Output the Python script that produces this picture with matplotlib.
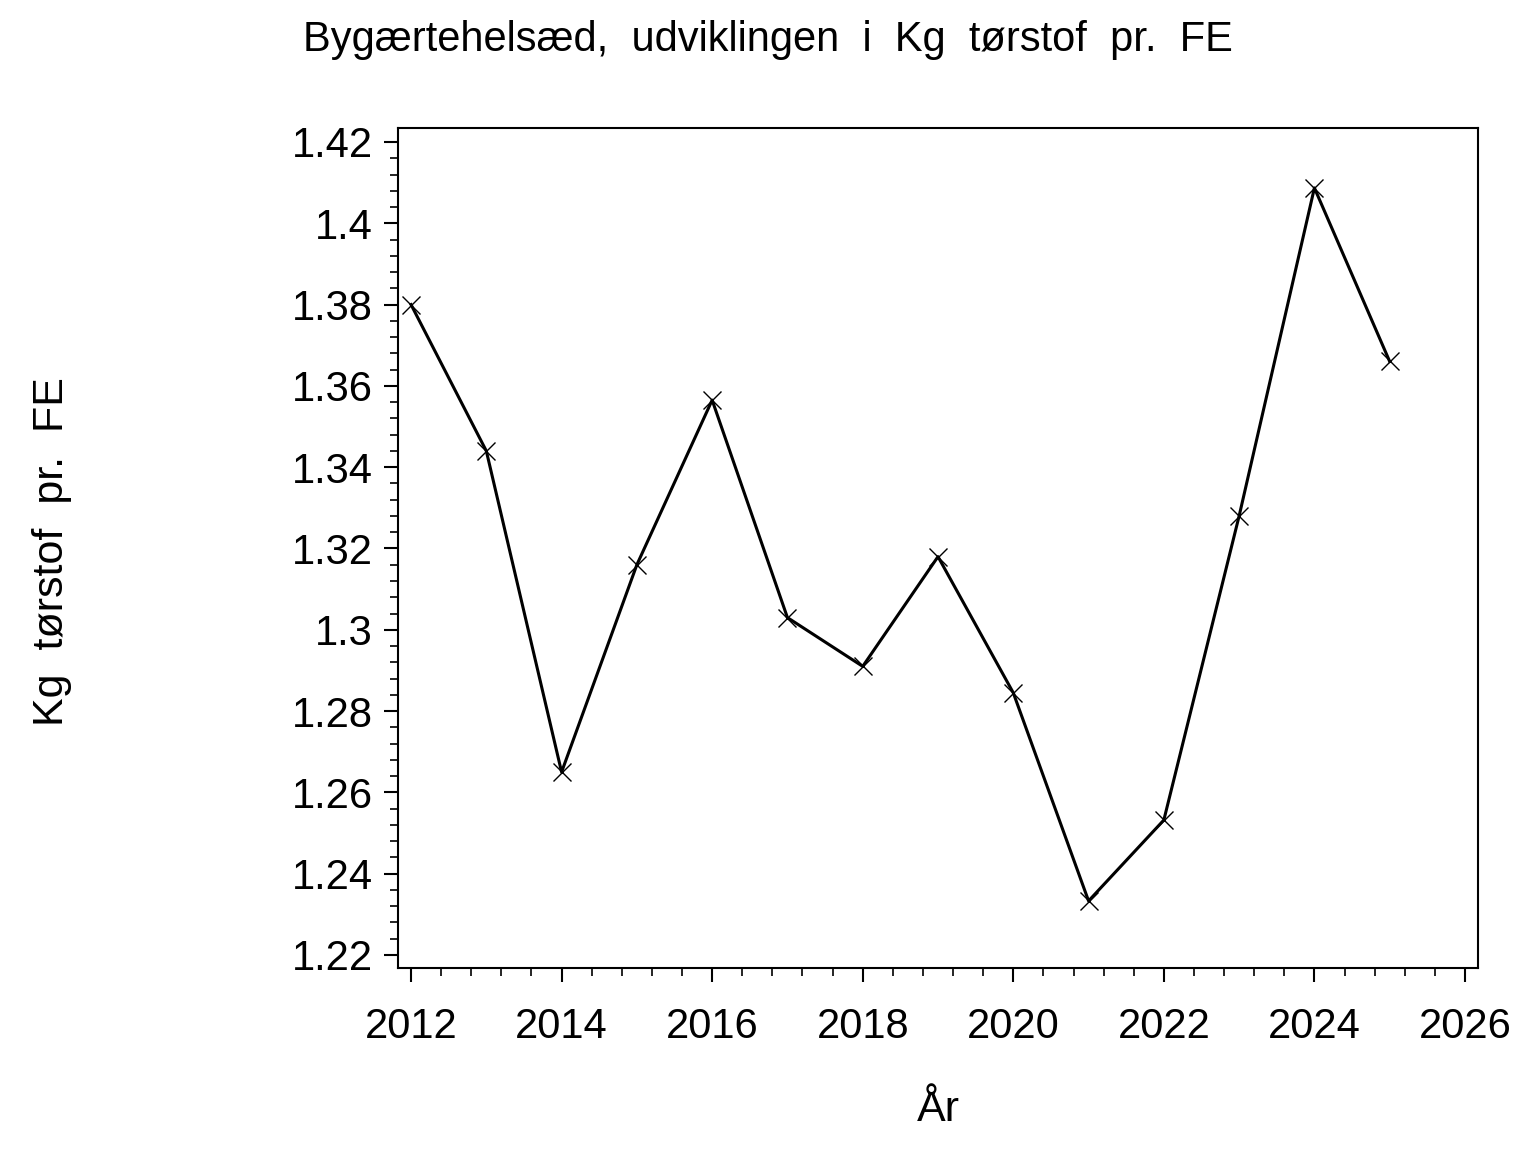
import matplotlib
matplotlib.use("Agg")
import matplotlib.pyplot as plt
from matplotlib.ticker import MultipleLocator, FuncFormatter

years = [2012, 2013, 2014, 2015, 2016, 2017, 2018, 2019, 2020, 2021, 2022, 2023, 2024, 2025]
values = [1.380, 1.344, 1.265, 1.316, 1.3565, 1.303, 1.291, 1.318, 1.2845, 1.2333, 1.2532, 1.328, 1.4087, 1.366]

title = "Bygærtehelsæd,  udviklingen  i  Kg  tørstof  pr.  FE"
xlabel = "År"
ylabel = "Kg  tørstof  pr.  FE"

plt.rcParams['font.family'] = ['Liberation Sans', 'DejaVu Sans']

fig = plt.figure(figsize=(15.36, 11.52), dpi=100)
ax = fig.add_axes([398/1536, 1-968/1152, (1478-398)/1536, (968-128)/1152])

ax.plot(years, values, color='black', lw=2.2, marker='x', markersize=13,
        markeredgewidth=1.0, markerfacecolor='none')

ax.set_xlim(2011.827, 2026.173)
ax.set_ylim(1.2168, 1.42344)

ax.xaxis.set_major_locator(MultipleLocator(2))
ax.xaxis.set_minor_locator(MultipleLocator(0.4))
ax.yaxis.set_major_locator(MultipleLocator(0.02))
ax.yaxis.set_minor_locator(MultipleLocator(0.004))
ax.yaxis.set_major_formatter(FuncFormatter(lambda v, p: ('%.2f' % v).rstrip('0').rstrip('.')))
ax.xaxis.set_major_formatter(FuncFormatter(lambda v, p: '%d' % round(v)))

ax.tick_params(axis='both', which='major', direction='out', length=10, width=1.5,
               labelsize=30, top=False, right=False)
ax.tick_params(axis='y', which='major', pad=8)
ax.tick_params(axis='x', which='major', pad=18)
ax.tick_params(axis='both', which='minor', direction='out', length=6, width=1.2,
               top=False, right=False)
for s in ax.spines.values():
    s.set_linewidth(1.5)

fig.text(0.5, 1-40/1152, title, ha='center', va='center', fontsize=30)
fig.text(938/1536, 1-1110/1152, xlabel, ha='center', va='center', fontsize=31)
fig.text(52/1536, 1-552/1152, ylabel, ha='center', va='center', fontsize=31, rotation=90)

fig.savefig("out.png", dpi=100, facecolor='white')
